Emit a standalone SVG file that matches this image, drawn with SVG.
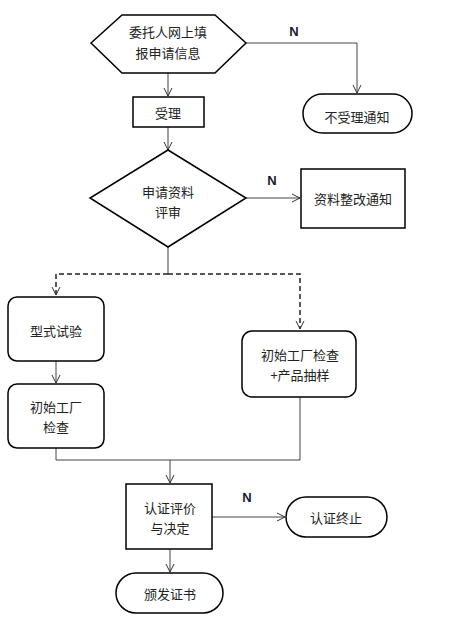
<svg xmlns="http://www.w3.org/2000/svg" width="451" height="630" viewBox="0 0 451 630">
<style>
.shape{fill:#fff;stroke:#000;stroke-width:1.5}
.t{font-family:"Noto Sans CJK SC","Liberation Sans",sans-serif;font-size:13px;fill:#222;text-anchor:middle;dominant-baseline:central}
.n{font-family:"Liberation Sans",sans-serif;font-size:13px;font-weight:bold;fill:#1a1a2e;text-anchor:middle;dominant-baseline:central}
.c{fill:none;stroke:#444;stroke-width:1}
.d{fill:none;stroke:#222;stroke-width:1.5;stroke-dasharray:5,3}
</style>
<defs>
<marker id="a" markerWidth="10" markerHeight="10" refX="9" refY="5" orient="auto" markerUnits="userSpaceOnUse">
<path d="M1,1 L9,5 L1,9" fill="none" stroke="#333" stroke-width="1"/>
</marker>
</defs>
<rect width="451" height="630" fill="#fff"/>
<g id="connectors">
<path class="c" d="M168,73 V96" marker-end="url(#a)"/>
<path class="c" d="M246,43 H357 V93" marker-end="url(#a)"/>
<path class="c" d="M168,127 V150" marker-end="url(#a)"/>
<path class="c" d="M246,198 H300" marker-end="url(#a)"/>
<path class="c" d="M168,247 V274"/>
<path class="d" d="M168,274 H56 V295" marker-end="url(#a)"/>
<path class="d" d="M168,274 H300 V329" marker-end="url(#a)"/>
<path class="c" d="M56,361 V383" marker-end="url(#a)"/>
<path class="c" d="M56,448 V460 H300 V397"/>
<path class="c" d="M170,460 V483" marker-end="url(#a)"/>
<path class="c" d="M212,517 H285" marker-end="url(#a)"/>
<path class="c" d="M170,549 V572" marker-end="url(#a)"/>
<text class="n" x="294" y="31">N</text>
<text class="n" x="272" y="180">N</text>
<text class="n" x="247" y="497">N</text>
</g>
<g id="n1">
<polygon class="shape" points="91,43 122,15 215,15 246,43 215,73 122,73"/>
<text class="t" x="168" y="31">委托人网上填</text>
<text class="t" x="168" y="52">报申请信息</text>
</g>
<g id="n2">
<rect class="shape" x="133" y="97" width="71" height="30"/>
<text class="t" x="168" y="112">受理</text>
</g>
<g id="n3">
<rect class="shape" x="303" y="94" width="109" height="39" rx="19.5"/>
<text class="t" x="357" y="116">不受理通知</text>
</g>
<g id="n4">
<polygon class="shape" points="168,150 246,198 168,247 90,198"/>
<text class="t" x="168" y="191">申请资料</text>
<text class="t" x="168" y="211">评审</text>
</g>
<g id="n5">
<rect class="shape" x="301" y="169" width="104" height="59"/>
<text class="t" x="353" y="198">资料整改通知</text>
</g>
<g id="n6">
<rect class="shape" x="8" y="297" width="96" height="64" rx="9"/>
<text class="t" x="56" y="330">型式试验</text>
</g>
<g id="n7">
<rect class="shape" x="8" y="384" width="96" height="64" rx="9"/>
<text class="t" x="56" y="406">初始工厂</text>
<text class="t" x="56" y="426">检查</text>
</g>
<g id="n8">
<rect class="shape" x="242" y="331" width="114" height="66" rx="10"/>
<text class="t" x="300" y="354">初始工厂检查</text>
<text class="t" x="300" y="374">+产品抽样</text>
</g>
<g id="n9">
<rect class="shape" x="126" y="484" width="86" height="65"/>
<text class="t" x="170" y="507">认证评价</text>
<text class="t" x="170" y="527">与决定</text>
</g>
<g id="n10">
<rect class="shape" x="286" y="497" width="101" height="40" rx="20"/>
<text class="t" x="336" y="517">认证终止</text>
</g>
<g id="n11">
<rect class="shape" x="116" y="573" width="107" height="40" rx="20"/>
<text class="t" x="170" y="593">颁发证书</text>
</g>
</svg>
